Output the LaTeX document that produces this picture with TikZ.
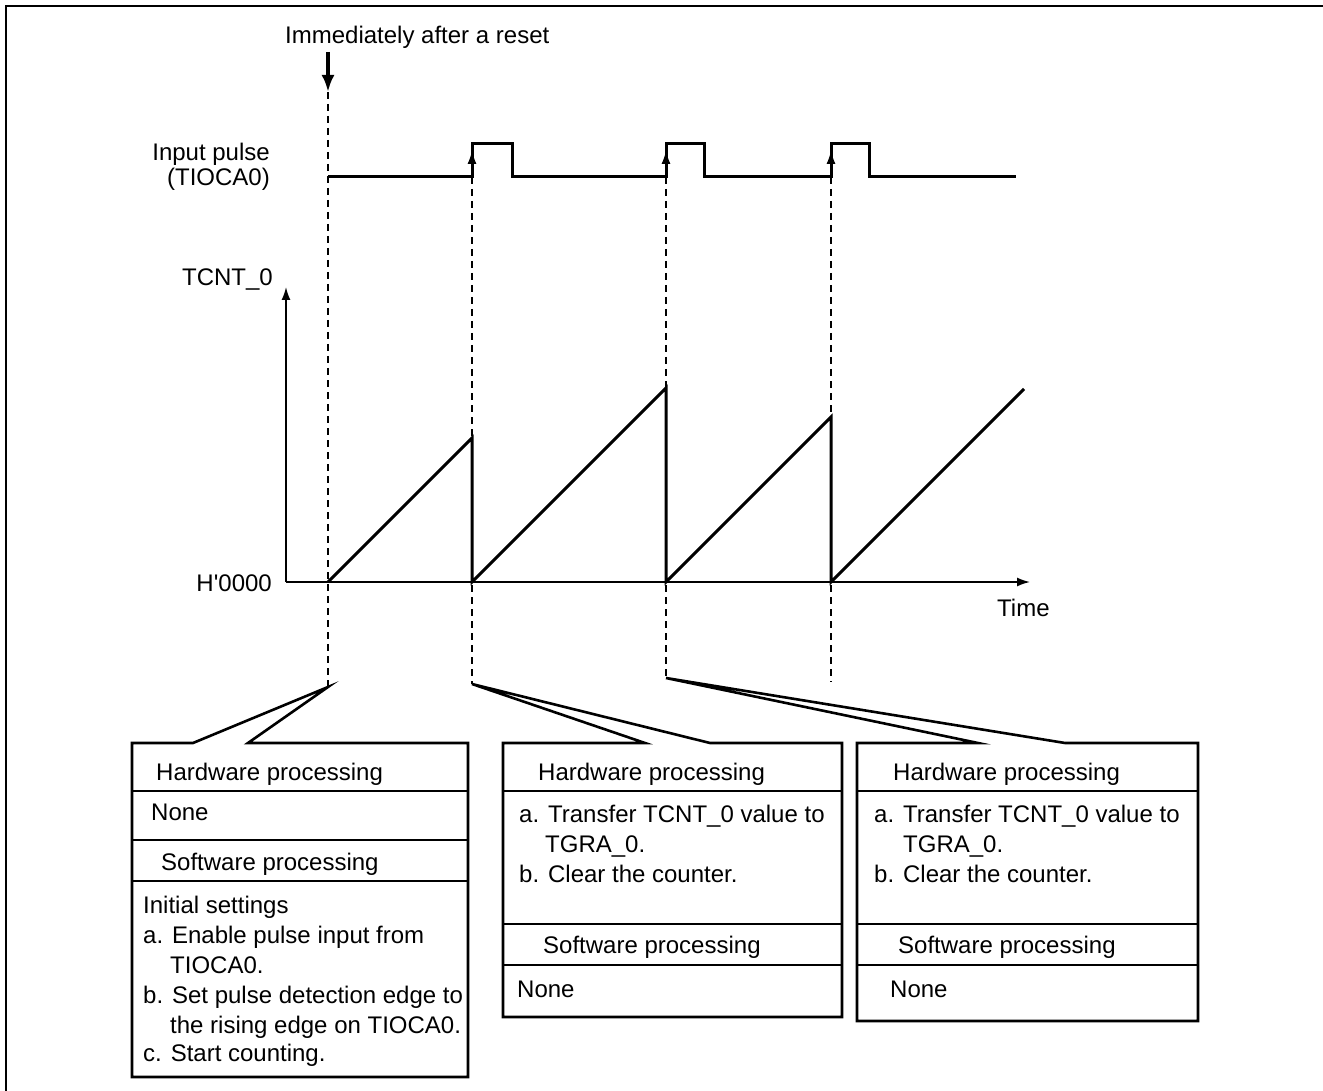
\documentclass[tikz,border=0pt]{standalone}
\usepackage{fontspec}
\setmainfont{Liberation Sans}
\usetikzlibrary{arrows.meta}
\newcommand{\sq}{\XeTeXglyph\XeTeXcharglyph"27\relax}
\begin{document}
\begin{tikzpicture}[x=1pt,y=-1pt,
  font=\fontsize{24}{30}\selectfont,
  txt/.style={inner sep=0pt, anchor=base west},
  txtr/.style={inner sep=0pt, anchor=base east},
  sig/.style={line width=3pt, line join=miter},
  axisline/.style={line width=1.6pt, -{Latex[length=13pt,width=9pt]}},
  guide/.style={line width=1.4pt, dash pattern=on 7pt off 5pt},
  edgearrow/.style={line width=1pt, -{Latex[length=13pt,width=9pt]}},
  boxline/.style={line width=2.4pt, line join=miter},
  callout/.style={line width=2.6pt, line join=miter}]
\useasboundingbox (0,0) rectangle (1323,1091);
% frame
\draw[line width=2pt] (6,1091) -- (6,6) -- (1323,6);

% labels
\node[txt] (title) at (285,44) {Immediately after a reset};
\node[inner sep=0pt, anchor=east, align=right, font=\fontsize{24}{25}\selectfont] (inlab) at (270,167) {Input pulse\\(TIOCA0)};
\node[txtr] (tcnt) at (273,286) {TCNT\_0};
\node[txtr] (zero) at (272,591) {H\sq 0000};
\node[txt] (time) at (997,616) {Time};

% coordinates
\coordinate (rTop) at (328,92);
\coordinate (rArrow) at (328,52);
\coordinate (r0) at (328,687);
\coordinate (e1) at (472,177);
\coordinate (e1b) at (472,684);
\coordinate (e2) at (666,177);
\coordinate (e2b) at (666,678);
\coordinate (e3) at (831,177);
\coordinate (e3b) at (831,682);
\coordinate (org) at (286,582);
\coordinate (ytip) at (286,287);
\coordinate (xtip) at (1030,582);

% reset arrow
\draw[line width=3.6pt, -{Latex[length=17pt,width=13pt]}] (rArrow) -- (rTop);

% guides
\draw[guide] (rTop) -- (r0);
\draw[guide] (e1) -- (e1b);
\draw[guide] (e2) -- (e2b);
\draw[guide] (e3) -- (e3b);

% input pulse
\draw[sig] (328,177) -- (472,177) -- (472,144) -- (512,144) -- (512,177)
  -- (666,177) -- (666,144) -- (704,144) -- (704,177)
  -- (831,177) -- (831,144) -- (869,144) -- (869,177) -- (1016,177);
\draw[edgearrow] (472,175) -- (472,151);
\draw[edgearrow] (666,175) -- (666,151);
\draw[edgearrow] (831,175) -- (831,151);

% axes
\draw[axisline] (org) -- (ytip);
\draw[axisline] (org) -- (xtip);

% sawtooth
\draw[sig] (328,582) -- (472,438) -- (472,582) -- (666,388) -- (666,582)
  -- (831,417) -- (831,582) -- (1024,389);

% left box with callout
\draw[callout] (132,743) -- (193,743) -- (r0) -- (248,743) -- (468,743)
  -- (468,1077) -- (132,1077) -- cycle;
\draw[boxline] (132,791) -- (468,791);
\draw[boxline] (132,840) -- (468,840);
\draw[boxline] (132,881) -- (468,881);
\node[txt] (lh) at (156,780) {Hardware processing};
\node[txt] (ln) at (151,820) {None};
\node[txt] (ls) at (161,870) {Software processing};
\node[txt] (l1) at (143,913) {Initial settings};
\node[txt] (l2) at (143,943) {a. Enable pulse input from};
\node[txt] (l3) at (170,973) {TIOCA0.};
\node[txt] (l4) at (143,1003) {b. Set pulse detection edge to};
\node[txt] (l5) at (170,1033) {the rising edge on TIOCA0.};
\node[txt] (l6) at (143,1061) {c. Start counting.};

% middle box
\draw[callout] (503,743) -- (645,743) -- (e1b) -- (710,743) -- (842,743)
  -- (842,1017) -- (503,1017) -- cycle;
\draw[boxline] (503,791) -- (842,791);
\draw[boxline] (503,924) -- (842,924);
\draw[boxline] (503,965) -- (842,965);
\node[txt] (mh) at (538,780) {Hardware processing};
\node[txt] (m1) at (519,822) {a. Transfer TCNT\_0 value to};
\node[txt] (m2) at (545,852) {TGRA\_0.};
\node[txt] (m3) at (519,882) {b. Clear the counter.};
\node[txt] (ms) at (543,953) {Software processing};
\node[txt] (mn) at (517,997) {None};

% right box
\draw[callout] (857,743) -- (978,743) -- (e2b) -- (1065,743) -- (1198,743)
  -- (1198,1021) -- (857,1021) -- cycle;
\draw[boxline] (857,791) -- (1198,791);
\draw[boxline] (857,924) -- (1198,924);
\draw[boxline] (857,965) -- (1198,965);
\node[txt] (rh) at (893,780) {Hardware processing};
\node[txt] (r1) at (874,822) {a. Transfer TCNT\_0 value to};
\node[txt] (r2) at (903,852) {TGRA\_0.};
\node[txt] (r3) at (874,882) {b. Clear the counter.};
\node[txt] (rs) at (898,953) {Software processing};
\node[txt] (rn) at (890,997) {None};
\end{tikzpicture}
\end{document}
